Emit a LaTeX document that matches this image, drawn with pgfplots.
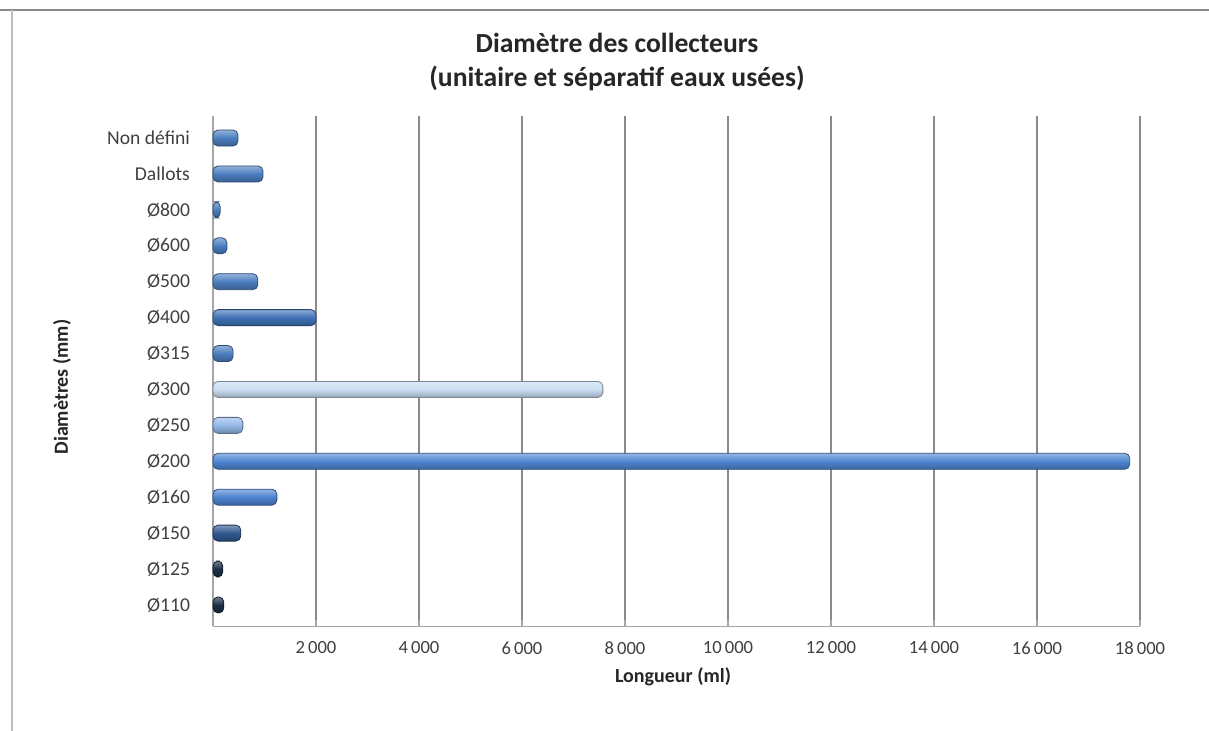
\documentclass[border=0pt]{standalone}
\usepackage{pgfplots}
\pgfplotsset{compat=1.18}
\usepackage{fontspec}
\setmainfont{Carlito}

\definecolor{gridc}{HTML}{8A8A8A}
\definecolor{axisc}{HTML}{A6A6A6}
\definecolor{textc}{HTML}{404040}
\definecolor{cDark}{HTML}{1C2E46}
\definecolor{cMed}{HTML}{4A7DBF}
\definecolor{cD400}{HTML}{3F71B6}
\definecolor{cLight}{HTML}{C9DDF2}
\definecolor{cD250}{HTML}{93B8E6}
\definecolor{cD200}{HTML}{4E86D3}
\definecolor{cD160}{HTML}{4C82CF}
\definecolor{cD150}{HTML}{30598F}

% cylinder-like bar: light edge on top, dark edge at the bottom
\tikzset{cyl/.style={top color=#1!60!white, bottom color=#1!75!black, middle color=#1,
    draw=#1!60!black, line width=0.4pt, rounded corners=2.5pt}}

\begin{document}
\begin{tikzpicture}
\useasboundingbox (0,0) rectangle (604.5pt,365.5pt);
\fill[white] (0,0) rectangle (604.5pt,365.5pt);
% frame
\draw[color=gray!90, line width=1pt] (0,360.5pt) -- (604.5pt,360.5pt);
\draw[color=gray!50, line width=0.6pt] (6pt,360.5pt) -- (6pt,0);

% titles
\node[font=\bfseries\fontsize{13.8}{17}\selectfont, text=black!85, align=center]
  at (308.5pt,344pt) {Diamètre des collecteurs};
\node[font=\bfseries\fontsize{13.8}{17}\selectfont, text=black!85, align=center]
  at (308.5pt,326.5pt) {(unitaire et séparatif eaux usées)};
\node[font=\bfseries\fontsize{10}{12}\selectfont, text=black!85]
  at (336.5pt,27pt) {Longueur (ml)};
\node[font=\bfseries\fontsize{10}{12}\selectfont, text=black!85, rotate=90]
  at (31pt,172pt) {Diamètres (mm)};

\begin{axis}[
  scale only axis, width=463.5pt, height=255pt,
  at={(106.5pt,52.25pt)}, anchor=south west,
  xmin=0, xmax=18000, ymin=-0.6, ymax=13.6,
  xbar, bar width=8pt, bar shift=0pt,
  axis x line*=bottom, axis y line*=left,
  axis line style={color=axisc, line width=0.8pt},
  xtick={2000,4000,...,18000},
  scaled x ticks=false,
  xticklabel style={font=\fontsize{9.3}{11}\selectfont, text=textc, yshift=-4pt,
    /pgf/number format/.cd, 1000 sep={\,}, assume math mode=true},
  xtick style={color=axisc, line width=0.6pt},
  major tick length=3pt,
  xmajorgrids, major grid style={color=gridc, line width=0.8pt},
  ytick={0,...,13},
  yticklabels={Ø110,Ø125,Ø150,Ø160,Ø200,Ø250,Ø300,Ø315,Ø400,Ø500,Ø600,Ø800,Dallots,Non défini},
  yticklabel style={font=\fontsize{9.8}{11}\selectfont, text=textc, xshift=-5pt},
  ytick style={draw=none},
  minor ytick={-0.5,0.5,...,13.5},
  minor tick length=3pt,
  minor y tick style={color=axisc, line width=0.6pt, xshift=-1.5pt},
  clip=false,
]
\addplot[cyl=cDark] coordinates {(210,0)};
\addplot[cyl=cDark] coordinates {(190,1)};
\addplot[cyl=cD150] coordinates {(540,2)};
\addplot[cyl=cD160] coordinates {(1240,3)};
\addplot[cyl=cD200] coordinates {(17800,4)};
\addplot[cyl=cD250] coordinates {(580,5)};
\addplot[cyl=cLight] coordinates {(7570,6)};
\addplot[cyl=cMed] coordinates {(390,7)};
\addplot[cyl=cD400] coordinates {(2000,8)};
\addplot[cyl=cMed] coordinates {(870,9)};
\addplot[cyl=cMed] coordinates {(270,10)};
\addplot[cyl=cMed] coordinates {(140,11)};
\addplot[cyl=cMed] coordinates {(970,12)};
\addplot[cyl=cMed] coordinates {(485,13)};
\end{axis}
\end{tikzpicture}
\end{document}
